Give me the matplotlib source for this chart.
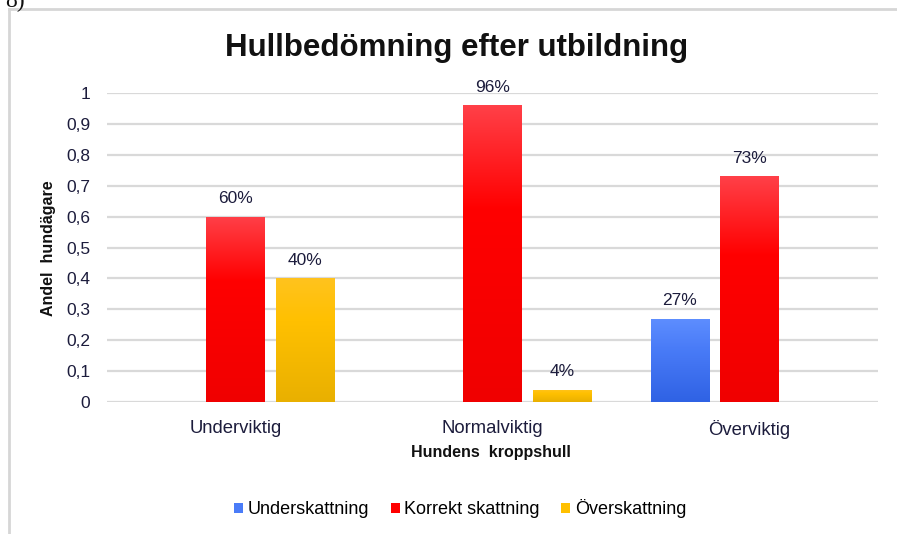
import numpy as np
import matplotlib.pyplot as plt
from matplotlib.colors import LinearSegmentedColormap
from matplotlib.patches import Patch
from matplotlib.lines import Line2D

plt.rcParams["font.family"] = ["Liberation Sans", "DejaVu Sans"]

categories = ["Underviktig", "Normalviktig", "Överviktig"]
series = ["Underskattning", "Korrekt skattning", "Överskattning"]
under = [0.0, 0.0, 0.27]
korrekt = [0.60, 0.96, 0.73]
over = [0.40, 0.04, 0.0]
yticks = [0, 0.1, 0.2, 0.3, 0.4, 0.5, 0.6, 0.7, 0.8, 0.9, 1]

# top -> bottom colour stops for each series
gradients = [
    ["#5e8eff", "#4a7cf8", "#2f62e4"],
    ["#ff4048", "#ff0000", "#f00000"],
    ["#ffc31e", "#ffc000", "#e9b000"],
]
flat = ["#4a7cf8", "#ff0000", "#ffc000"]

fig = plt.figure(figsize=(8.97, 5.34), dpi=100)
ax = fig.add_axes([0.1193, 0.2472, 0.8595, 0.5786])

x = np.arange(len(categories))
width = 0.226
offsets = [-0.272, 0.0, 0.272]
values = [under, korrekt, over]

ax.set_xlim(-0.5, len(categories) - 0.5)
ax.set_ylim(0, 1)
ax.set_yticks(yticks)
ax.set_yticklabels([("%g" % t).replace(".", ",") for t in yticks])
ax.yaxis.grid(True, color="#d9d9d9", linewidth=1.6)
ax.set_axisbelow(True)
for s in ax.spines.values():
    s.set_visible(False)
ax.tick_params(length=0, labelcolor="#1c1c3c")
ax.tick_params(axis="y", pad=12, labelsize=12.5)
ax.tick_params(axis="x", pad=13, labelsize=13.3)
ax.set_xticks(x)
ax.set_xticklabels(categories)

grad = np.linspace(0, 1, 256).reshape(-1, 1)
for vals, off, stops, col in zip(values, offsets, gradients, flat):
    cmap = LinearSegmentedColormap.from_list("g", [(0, stops[0]), (0.35, stops[1]), (1, stops[2])])
    bars = ax.bar(x + off, vals, width, color=col, edgecolor="none", zorder=2)
    for b, v in zip(bars, vals):
        if v <= 0:
            continue
        x0, w = b.get_x(), b.get_width()
        im = ax.imshow(grad, cmap=cmap, aspect="auto", extent=(x0, x0 + w, 0, v),
                       origin="upper", zorder=3)
        im.set_clip_path(b)
        ax.text(x0 + w / 2, v + 0.035, f"{v * 100:.0f}%", ha="center", va="bottom",
                fontsize=12.5, color="#1c1c3c", clip_on=False)

ax.set_xlim(-0.5, len(categories) - 0.5)
ax.set_ylim(0, 1)

fig.text(0.5095, 0.91, "Hullbedömning efter utbildning", ha="center", va="center",
         fontsize=22.5, fontweight="bold", color="#111111")
fig.text(0.054, 0.536, "Andel  hundägare", rotation=90, ha="center", va="center",
         fontsize=11.5, fontweight="bold", color="#111111")
fig.text(0.547, 0.153, "Hundens  kroppshull", ha="center", va="center",
         fontsize=11.5, fontweight="bold", color="#111111")

handles = [Patch(facecolor=c, edgecolor="none") for c in flat]
fig.legend(handles, series, loc="center", bbox_to_anchor=(0.513, 0.047), ncol=3,
           frameon=False, fontsize=13, handlelength=0.5, handleheight=0.5,
           handletextpad=0.25, columnspacing=1.2)

# outer frame (top and left edges)
fig.add_artist(Line2D([0.01, 1.0], [0.983, 0.983], color="#d6d6d6", linewidth=2,
                      transform=fig.transFigure))
fig.add_artist(Line2D([0.01, 0.01], [0.0, 0.983], color="#d6d6d6", linewidth=2,
                      transform=fig.transFigure))
fig.text(0.006, 0.987, "8)", ha="left", va="baseline", fontsize=17,
         family="Liberation Serif", color="#111111")

fig.savefig("out.png", dpi=100)
